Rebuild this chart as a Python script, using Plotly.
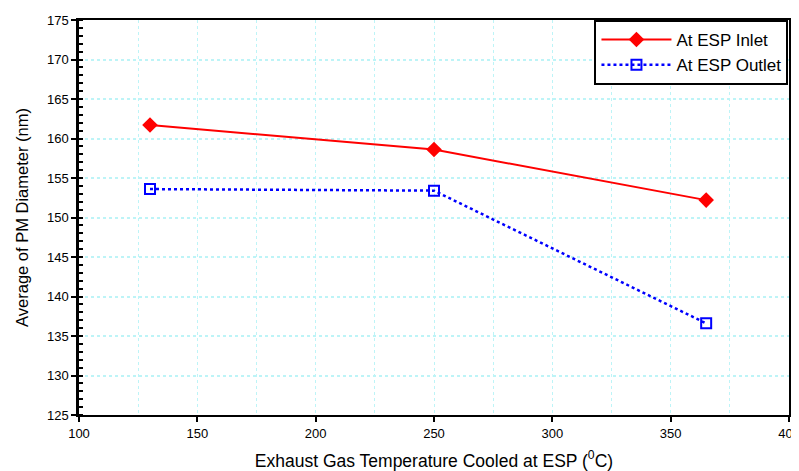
import plotly.graph_objects as go

temps = [130, 250, 365]
inlet = [161.7, 158.6, 152.2]
outlet = [153.6, 153.4, 136.6]
x_ticks = [100, 150, 200, 250, 300, 350, 400]
y_ticks = [125, 130, 135, 140, 145, 150, 155, 160, 165, 170, 175]

fig = go.Figure()
fig.add_trace(go.Scatter(
    x=temps, y=inlet, name="At ESP Inlet", mode="lines+markers",
    line=dict(color="#ff0000", width=2),
    marker=dict(symbol="diamond", size=12, color="#ff0000"),
    cliponaxis=False,
))
fig.add_trace(go.Scatter(
    x=temps, y=outlet, name="At ESP Outlet", mode="lines+markers",
    line=dict(color="#0000ff", width=2.5, dash="dot"),
    marker=dict(symbol="square-open", size=10, color="#0000ff", line=dict(width=2)),
    cliponaxis=False,
))

grid_color = "#bdf4f7"
fig.update_layout(
    width=799, height=471,
    margin=dict(l=71, r=18, t=12, b=64),
    paper_bgcolor="white", plot_bgcolor="white",
    font=dict(family="Liberation Sans, Arial", size=13, color="black"),
    showlegend=True,
    legend=dict(
        x=0.726, y=1, xanchor="left", yanchor="top",
        bgcolor="white", bordercolor="black", borderwidth=2,
        font=dict(size=17, family="Liberation Sans, Arial"),
        tracegroupgap=16, itemwidth=70,
    ),
)
fig.update_xaxes(
    range=[100, 400], tickvals=x_ticks, ticktext=[str(v) for v in x_ticks],
    automargin=False,
    showline=True, linecolor="black", linewidth=2, mirror=True,
    ticks="outside", ticklen=5, tickcolor="black", tickwidth=2,
    showgrid=True, gridcolor=grid_color, griddash="dot", gridwidth=1,
    minor=dict(dtick=25, tick0=100, showgrid=True, gridcolor=grid_color, griddash="dot", ticks=""),
    zeroline=False,
    title=dict(text="Exhaust Gas Temperature Cooled at ESP (<sup>0</sup>C)",
               font=dict(size=17.5)),
    tickfont=dict(size=13),
)
fig.update_yaxes(
    range=[125, 175], tickvals=y_ticks, ticktext=[str(v) for v in y_ticks],
    automargin=False,
    showline=True, linecolor="black", linewidth=2.5, mirror=True,
    ticks="outside", ticklen=5, tickcolor="black", tickwidth=2,
    showgrid=True, gridcolor=grid_color, griddash="dot", gridwidth=2,
    minor=dict(dtick=1, tick0=125, ticks="inside", ticklen=4, tickcolor="black", tickwidth=2, showgrid=False),
    zeroline=False,
    title=dict(text="Average of PM Diameter (nm)", font=dict(size=16.5)),
    tickfont=dict(size=13),
)

fig.write_html("out.html")
